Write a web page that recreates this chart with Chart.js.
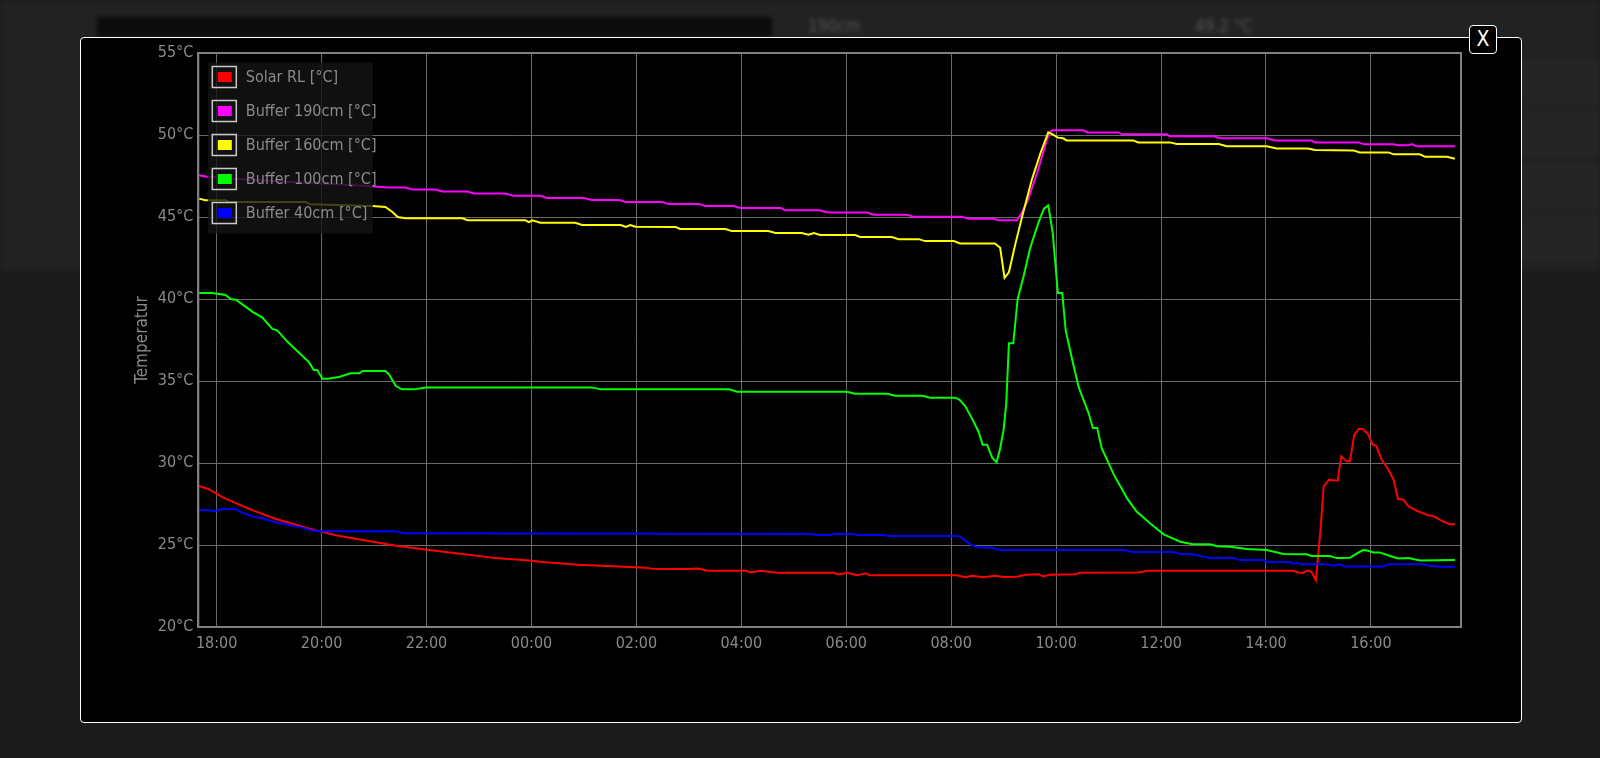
<!DOCTYPE html>
<html lang="de">
<head>
    <meta charset="UTF-8">
    <title>Temperaturverlauf</title>
    <script src="https://cdn.jsdelivr.net/npm/chart.js"></script>
    <style>
        body { margin: 0; width: 1600px; height: 758px; background: #1b1b1b; overflow: hidden; position: relative;
               font-family: 'Liberation Sans Narrow', 'DejaVu Sans Condensed', 'Roboto', sans-serif; }
        .hintergrund { position: absolute; left: 0; top: 0; width: 1600px; height: 272px; background: #222; filter: blur(2px); }
        .leiste { position: absolute; left: 97px; top: 17px; width: 675px; height: 20px; background: #0c0c0c; }
        .bgtext { position: absolute; top: 16px; color: #555; font-size: 17px; }
        .zeile { position: absolute; left: 1510px; width: 90px; height: 44px; background: #252525; }
        .modal { position: absolute; left: 80px; top: 37px; width: 1442px; height: 686px; box-sizing: border-box;
                 background: #000; border: 1px solid #fff; border-radius: 4px; }
        .schliessen { position: absolute; left: 1469px; top: 25px; width: 28px; height: 29px; box-sizing: border-box;
                      background: #000; border: 1px solid #fff; border-radius: 4px; color: #fff; font-size: 21px;
                      line-height: 27px; text-align: center; }
        canvas { position: absolute; left: 0; top: 0; }
    </style>
</head>
<body>
    <div class="hintergrund">
        <div class="leiste"></div>
        <span class="bgtext" style="left:808px">190cm</span>
        <span class="bgtext" style="left:1195px">49.2 °C</span>
        <div class="zeile" style="top:60px"></div>
        <div class="zeile" style="top:112px"></div>
        <div class="zeile" style="top:164px"></div>
        <div class="zeile" style="top:216px"></div>
    </div>
    <div class="modal"></div>
    <div class="schliessen">X</div>
    <canvas id="tempChart" width="1600" height="758"></canvas>

    <script>
        // Achsen
        const zeitTicks = ['18:00', '20:00', '22:00', '00:00', '02:00', '04:00', '06:00', '08:00', '10:00', '12:00', '14:00', '16:00'];
        const tempTicks = [20, 25, 30, 35, 40, 45, 50, 55];

        // Solar RL
        const solarZeit = ['17:40', '17:51', '18:07', '18:22', '18:37', '18:52', '19:07', '19:30', '19:46', '20:01', '20:16', '20:47',
            '21:25', '22:03', '22:41', '23:19', '23:57', '00:16', '00:54', '01:32', '02:10', '02:18', '02:58', '03:11', '03:21',
            '04:06', '04:10', '04:22', '04:41', '05:46', '05:51', '06:01', '06:12', '06:22', '06:27', '08:06', '08:16', '08:24',
            '08:37', '08:50', '09:00', '09:15', '09:25', '09:40', '09:45', '09:53', '10:22', '10:27', '11:34', '11:44', '14:31',
            '14:37', '14:43', '14:48', '14:52', '14:57', '15:02', '15:06', '15:12', '15:22', '15:26', '15:32', '15:36', '15:41',
            '15:46', '15:51', '15:57', '16:02', '16:06', '16:12', '16:20', '16:26', '16:31', '16:37', '16:43', '16:52', '17:06',
            '17:11', '17:19', '17:30', '17:36'];
        const solarWerte = [28.6, 28.4, 27.9, 27.55, 27.2, 26.9, 26.6, 26.25, 26.0, 25.8, 25.6, 25.3,
            24.95, 24.7, 24.45, 24.2, 24.05, 23.95, 23.8, 23.7, 23.62, 23.55, 23.53, 23.57, 23.43,
            23.43, 23.33, 23.43, 23.31, 23.31, 23.2, 23.31, 23.16, 23.27, 23.16, 23.16, 23.04, 23.12,
            23.04, 23.12, 23.05, 23.06, 23.18, 23.22, 23.08, 23.18, 23.22, 23.31, 23.33, 23.43, 23.43,
            23.31, 23.31, 23.45, 23.37, 22.86, 25.7, 28.57, 28.98, 28.92, 30.41, 30.1, 30.1, 31.73,
            32.08, 32.08, 31.73, 31.1, 31.06, 30.24, 29.59, 28.98, 27.8, 27.76, 27.35, 27.1, 26.8,
            26.78, 26.53, 26.27, 26.27];

        // Puffer 190cm
        const p190Zeit = ['17:40', '17:49', '18:30', '19:20', '20:00', '20:39', '21:17', '21:36', '21:44', '22:10', '22:18', '22:47',
            '22:54', '23:30', '23:40', '00:10', '00:18', '01:00', '01:09', '01:40', '01:48', '02:29', '02:37', '03:11', '03:19',
            '03:51', '03:59', '04:45', '04:50', '05:30', '05:36', '05:44', '06:24', '06:31', '07:09', '07:17', '08:12', '08:20',
            '08:48', '08:54', '09:15', '09:19', '09:27', '09:38', '09:52', '09:56', '10:31', '10:36', '11:11', '11:16', '12:07',
            '12:10', '13:00', '13:08', '14:01', '14:10', '14:52', '14:56', '15:46', '15:52', '16:26', '16:31', '16:43', '16:47',
            '16:52', '17:36'];
        const p190Werte = [47.55, 47.45, 47.3, 47.15, 47.05, 46.94, 46.8, 46.8, 46.67, 46.67, 46.55, 46.55,
            46.43, 46.43, 46.29, 46.29, 46.16, 46.16, 46.04, 46.04, 45.92, 45.92, 45.8, 45.8, 45.67,
            45.67, 45.55, 45.55, 45.41, 45.41, 45.31, 45.27, 45.27, 45.14, 45.14, 45.02, 45.02, 44.9,
            44.9, 44.8, 44.8, 45.1, 45.92, 47.65, 50.16, 50.29, 50.29, 50.16, 50.16, 50.04, 50.04,
            49.92, 49.92, 49.8, 49.8, 49.67, 49.67, 49.55, 49.55, 49.43, 49.43, 49.37, 49.37, 49.45,
            49.31, 49.31];

        // Puffer 160cm
        const p160Zeit = ['17:40', '17:47', '18:10', '18:14', '19:42', '19:47', '20:58', '21:13', '21:21', '21:27', '21:36', '22:41',
            '22:47', '23:53', '23:57', '00:01', '00:10', '00:50', '00:58', '01:42', '01:48', '01:53', '01:59', '02:45', '02:50',
            '03:42', '03:49', '04:31', '04:39', '05:09', '05:17', '05:23', '05:30', '06:10', '06:16', '06:52', '07:00', '07:23',
            '07:30', '08:03', '08:10', '08:50', '08:56', '09:01', '09:06', '09:13', '09:21', '09:32', '09:42', '09:51', '09:56',
            '10:02', '10:08', '10:12', '11:28', '11:34', '12:10', '12:18', '13:06', '13:15', '14:01', '14:12', '14:48', '14:56',
            '15:40', '15:47', '16:20', '16:26', '16:56', '17:02', '17:27', '17:36'];
        const p160Werte = [46.12, 46.02, 46.02, 45.92, 45.92, 45.78, 45.67, 45.61, 45.31, 45.0, 44.92, 44.92,
            44.8, 44.8, 44.69, 44.8, 44.65, 44.65, 44.51, 44.51, 44.39, 44.51, 44.41, 44.39, 44.27,
            44.27, 44.14, 44.14, 44.02, 44.02, 43.92, 44.02, 43.9, 43.9, 43.78, 43.78, 43.65, 43.65,
            43.53, 43.53, 43.39, 43.39, 43.12, 41.29, 41.63, 43.27, 45.0, 47.24, 48.88, 50.16, 50.04,
            49.84, 49.8, 49.67, 49.67, 49.55, 49.55, 49.45, 49.45, 49.31, 49.31, 49.18, 49.18, 49.08,
            49.06, 48.94, 48.94, 48.82, 48.82, 48.67, 48.67, 48.55];

        // Puffer 100cm
        const p100Zeit = ['17:40', '17:55', '18:10', '18:16', '18:22', '18:29', '18:41', '18:52', '19:04', '19:09', '19:21', '19:30',
            '19:46', '19:51', '19:55', '20:01', '20:07', '20:20', '20:33', '20:43', '20:47', '21:13', '21:17', '21:25', '21:32',
            '21:46', '21:59', '01:09', '01:19', '03:46', '03:55', '06:01', '06:10', '06:47', '06:56', '07:27', '07:36', '08:05',
            '08:10', '08:16', '08:24', '08:31', '08:36', '08:41', '08:47', '08:52', '08:56', '09:00', '09:03', '09:06', '09:11',
            '09:16', '09:23', '09:30', '09:40', '09:46', '09:51', '09:56', '10:02', '10:07', '10:11', '10:20', '10:26', '10:37',
            '10:42', '10:47', '10:52', '11:06', '11:21', '11:32', '11:48', '12:03', '12:22', '12:35', '12:56', '13:04', '13:19',
            '13:38', '14:01', '14:20', '14:47', '14:52', '15:13', '15:21', '15:36', '15:44', '15:51', '15:57', '16:03', '16:10',
            '16:22', '16:31', '16:43', '16:56', '17:36'];
        const p100Werte = [40.37, 40.37, 40.24, 40.0, 39.96, 39.69, 39.22, 38.88, 38.16, 38.1, 37.39, 36.94,
            36.12, 35.67, 35.67, 35.14, 35.14, 35.24, 35.47, 35.47, 35.61, 35.61, 35.41, 34.69, 34.49,
            34.49, 34.61, 34.61, 34.49, 34.49, 34.35, 34.35, 34.22, 34.22, 34.1, 34.1, 33.98, 33.98,
            33.84, 33.47, 32.69, 31.94, 31.12, 31.12, 30.31, 30.04, 30.9, 32.04, 33.67, 37.3, 37.3,
            40.0, 41.43, 43.06, 44.69, 45.51, 45.71, 44.08, 40.37, 40.37, 38.06, 35.92, 34.59, 33.06,
            32.14, 32.14, 30.92, 29.29, 27.86, 27.04, 26.29, 25.65, 25.2, 25.06, 25.04, 24.92, 24.9,
            24.76, 24.69, 24.45, 24.43, 24.33, 24.33, 24.2, 24.22, 24.49, 24.69, 24.65, 24.55, 24.55,
            24.33, 24.18, 24.2, 24.06, 24.08];

        // Puffer 40cm
        const p40Zeit = ['17:40', '17:47', '17:57', '18:07', '18:21', '18:29', '18:41', '18:52', '19:07', '19:23', '19:38', '19:49',
            '20:01', '21:25', '21:34', '05:19', '05:26', '05:42', '05:47', '06:08', '06:14', '06:43', '06:47', '08:07', '08:12',
            '08:22', '08:31', '08:45', '08:56', '11:17', '11:27', '12:14', '12:22', '12:35', '12:45', '12:56', '13:23', '13:30',
            '13:57', '14:01', '14:28', '14:31', '14:35', '14:41', '15:09', '15:17', '15:25', '15:30', '16:14', '16:20', '17:00',
            '17:08', '17:19', '17:36'];
        const p40Werte = [27.1, 27.14, 27.08, 27.2, 27.2, 26.98, 26.73, 26.63, 26.39, 26.22, 26.06, 25.88,
            25.84, 25.84, 25.71, 25.67, 25.61, 25.61, 25.69, 25.67, 25.61, 25.61, 25.55, 25.55, 25.45,
            25.04, 24.84, 24.84, 24.69, 24.69, 24.57, 24.57, 24.45, 24.45, 24.33, 24.2, 24.2, 24.08,
            24.08, 23.96, 23.96, 23.84, 23.92, 23.82, 23.82, 23.73, 23.82, 23.69, 23.69, 23.82, 23.82,
            23.73, 23.67, 23.67];

        const reihen = [
            { name: 'Solar RL [°C]', farbe: '#ff0000', zeit: solarZeit, werte: solarWerte },
            { name: 'Buffer 190cm [°C]', farbe: '#ff00ff', zeit: p190Zeit, werte: p190Werte },
            { name: 'Buffer 160cm [°C]', farbe: '#ffff00', zeit: p160Zeit, werte: p160Werte },
            { name: 'Buffer 100cm [°C]', farbe: '#00ff00', zeit: p100Zeit, werte: p100Werte },
            { name: 'Buffer 40cm [°C]', farbe: '#0000ff', zeit: p40Zeit, werte: p40Werte }
        ];

        // Uhrzeiten in Minuten ab 18:00 umrechnen (über Mitternacht hinweg)
        function zuMinuten(zeiten) {
            let tag = 0, vorher = -Infinity;
            return zeiten.map(z => {
                const [h, m] = z.split(':').map(Number);
                let v = h * 60 + m + tag;
                if (v < vorher) { tag += 1440; v += 1440; }
                vorher = v;
                return v - 1080;
            });
        }

        function alsUhrzeit(v) {
            const m = ((v + 1080) % 1440 + 1440) % 1440;
            return String(Math.floor(m / 60)).padStart(2, '0') + ':' + String(m % 60).padStart(2, '0');
        }

        const schrift = "'Liberation Sans Narrow', 'DejaVu Sans Condensed', 'Roboto', sans-serif";
        const textFarbe = '#8a8a8a';
        const tickMinuten = zuMinuten(zeitTicks);

        // Legende und Rahmen selbst zeichnen
        const legendePlugin = {
            id: 'legende',
            afterDatasetsDraw(chart) {
                const ctx = chart.ctx;
                const a = chart.chartArea;
                ctx.save();
                ctx.strokeStyle = '#808080';
                ctx.lineWidth = 2;
                ctx.strokeRect(a.left, a.top, a.right - a.left, a.bottom - a.top);

                const lx = a.left + 9.5, ly = a.top + 9.5;
                ctx.fillStyle = 'rgba(20,20,20,0.8)';
                ctx.fillRect(lx, ly, 165, 171);
                ctx.font = '16px ' + schrift;
                ctx.textBaseline = 'middle';
                reihen.forEach((r, i) => {
                    const y = ly + 4 + i * 34;
                    ctx.strokeStyle = '#c8c8c8';
                    ctx.lineWidth = 1.5;
                    ctx.strokeRect(lx + 4.5, y, 24, 21);
                    ctx.fillStyle = r.farbe;
                    ctx.fillRect(lx + 10, y + 5.5, 14, 10);
                    ctx.fillStyle = textFarbe;
                    ctx.fillText(r.name, lx + 38, y + 11);
                });
                ctx.restore();
            }
        };

        const ctx = document.getElementById('tempChart').getContext('2d');
        new Chart(ctx, {
            type: 'line',
            data: {
                datasets: reihen.map((r, i) => {
                    const x = zuMinuten(r.zeit);
                    return {
                        label: r.name,
                        data: r.werte.map((w, k) => ({ x: x[k], y: w })),
                        borderColor: r.farbe,
                        backgroundColor: r.farbe,
                        borderWidth: 2,
                        pointRadius: 0,
                        tension: 0,
                        order: 5 - i
                    };
                })
            },
            options: {
                responsive: false,
                animation: false,
                layout: { padding: { left: 128, top: 53, right: 139, bottom: 91 } },
                scales: {
                    x: {
                        type: 'linear',
                        min: -21,
                        max: 1423,
                        afterBuildTicks: axis => { axis.ticks = tickMinuten.map(v => ({ value: v })); },
                        afterFit: axis => { axis.height = 40; },
                        grid: { color: '#6a6a6a', lineWidth: 1, drawTicks: false },
                        border: { color: '#808080', width: 2 },
                        ticks: {
                            color: textFarbe,
                            font: { family: schrift, size: 16 },
                            padding: 7,
                            maxRotation: 0,
                            autoSkip: false,
                            callback: v => alsUhrzeit(v)
                        }
                    },
                    y: {
                        min: 20,
                        max: 55,
                        afterBuildTicks: axis => { axis.ticks = tempTicks.map(v => ({ value: v })); },
                        afterFit: axis => { axis.width = 70.3; },
                        grid: { color: '#6a6a6a', lineWidth: 1, drawTicks: false },
                        border: { color: '#808080', width: 2 },
                        title: {
                            display: true,
                            text: 'Temperatur',
                            color: textFarbe,
                            font: { family: schrift, size: 17 }
                        },
                        ticks: {
                            color: textFarbe,
                            font: { family: schrift, size: 16 },
                            padding: 5,
                            callback: v => v + '°C'
                        }
                    }
                },
                plugins: {
                    legend: { display: false },
                    tooltip: { enabled: false }
                }
            },
            plugins: [legendePlugin]
        });
    </script>
</body>
</html>
